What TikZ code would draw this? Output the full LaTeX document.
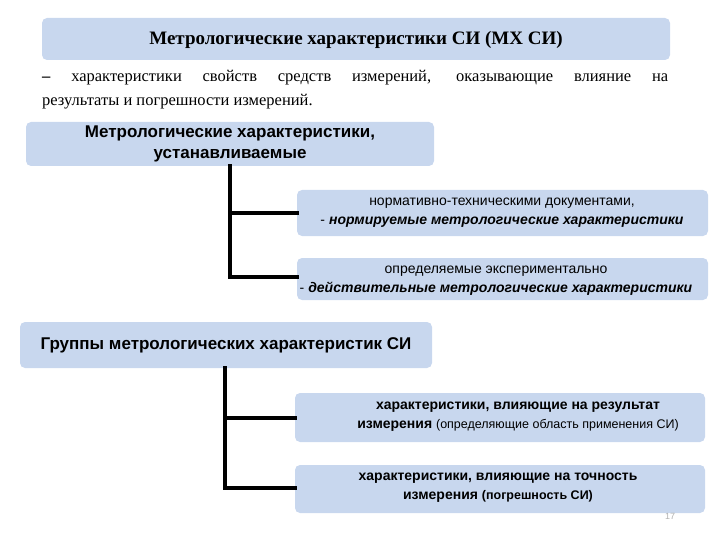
\documentclass[tikz,border=0pt]{standalone}
\usepackage{fontspec}
\setmainfont{Liberation Sans}
\newfontfamily\serifru{Liberation Serif}
\definecolor{boxblue}{HTML}{C8D7EE}
\begin{document}
\begin{tikzpicture}[x=1pt,y=-1pt,
  bx/.style={fill=boxblue,rounded corners=5pt,draw=none},
  conn/.style={line width=3.5pt,line cap=rect},
  txt/.style={align=center,inner sep=0pt,font=\fontsize{14}{19}\selectfont}]
\useasboundingbox (0,0) rectangle (720,540);
% title
\fill[bx] (42,18) rectangle (670,60);
\node[font=\serifru\bfseries\fontsize{19}{22}\selectfont] (t) at (356,40) {Метрологические характеристики СИ (МХ СИ)};
\node[anchor=north west,text width=626pt,align=justify,inner sep=0pt,font=\serifru\fontsize{16.5}{24}\selectfont] (d) at (42,70)
 {\textbf{–} характеристики свойств средств измерений, оказывающие влияние на\linebreak результаты и погрешности измерений.};
% A
\fill[bx] (26,122) rectangle (434,166);
\node[txt,font=\bfseries\fontsize{17}{21}\selectfont] (A) at (230,144) {Метрологические характеристики,\\устанавливаемые};
\fill[bx] (297,190) rectangle (708,236);
\node[txt] (B1) at (502,213) {нормативно-техническими документами,\\- \textbf{\itshape нормируемые метрологические характеристики}};
\fill[bx] (297,258) rectangle (708,300);
\node[txt] (B2) at (496,281) {определяемые экспериментально\\- \textbf{\itshape действительные метрологические характеристики}};
\coordinate (a0) at (230,166);
\coordinate (b1) at (297,213);
\coordinate (b2) at (297,277);
\draw[conn] (a0) |- (b2);
\draw[conn] (a0 |- b1) -- (b1);
% C
\fill[bx] (20,322) rectangle (432,368);
\node[txt,font=\bfseries\fontsize{17}{21}\selectfont] (C) at (226,345) {Группы метрологических характеристик СИ};
\fill[bx] (295,393) rectangle (705,442);
\node[txt] (D1) at (518,417) {\textbf{характеристики, влияющие на результат}\\\textbf{измерения} {\fontsize{12.5}{19}\selectfont (определяющие область применения СИ)}};
\fill[bx] (295,465) rectangle (705,513);
\node[txt,font=\bfseries\fontsize{14}{19}\selectfont] (D2) at (498,488) {характеристики, влияющие на точность\\измерения {\fontsize{12.5}{19}\selectfont (погрешность СИ)}};
\coordinate (c0) at (225,368);
\coordinate (d1) at (295,418);
\coordinate (d2) at (295,488);
\draw[conn] (c0) |- (d2);
\draw[conn] (c0 |- d1) -- (d1);
\node[text=gray!60,font=\fontsize{9}{10}\selectfont] (pg) at (670,516) {17};
\end{tikzpicture}
\end{document}
